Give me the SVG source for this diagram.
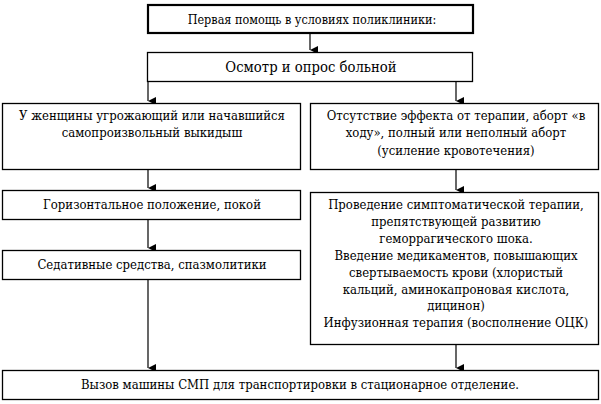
<svg xmlns="http://www.w3.org/2000/svg" width="601" height="404" viewBox="0 0 601 404">
<style>
.b{fill:#fff;stroke:#000;stroke-width:1.3}
text{font-family:'DejaVu Serif Condensed','DejaVu Serif',serif;font-stretch:condensed;font-size:13px;fill:#000;text-anchor:middle}
.c{stroke:#000;stroke-width:1.2;fill:none}
</style>
<defs>
<marker id="ah" markerWidth="8" markerHeight="9" refX="4" refY="8" orient="auto" markerUnits="userSpaceOnUse" viewBox="0 0 8 9">
<path d="M0,0 L8,0 L4,8 Z" fill="#000"/>
</marker>
</defs>
<rect width="601" height="404" fill="#fff"/>
<g id="connectors">
<path class="c" d="M310,34 V50" marker-end="url(#ah)"/>
<path class="c" d="M148,81 V101" marker-end="url(#ah)"/>
<path class="c" d="M456,81 V101" marker-end="url(#ah)"/>
<path class="c" d="M148,169 V188" marker-end="url(#ah)"/>
<path class="c" d="M456,169 V190" marker-end="url(#ah)"/>
<path class="c" d="M148,219 V248" marker-end="url(#ah)"/>
<path class="c" d="M148,279 V368" marker-end="url(#ah)"/>
<path class="c" d="M456,345 V368" marker-end="url(#ah)"/>
</g>
<g id="n1">
<rect x="148" y="5" width="325" height="28" fill="#fff" stroke="#000" stroke-width="2.2"/>
<text x="312" y="23.5" style="font-size:12.5px">Первая помощь в условиях поликлиники:</text>
</g>
<g id="n2">
<rect class="b" x="147.5" y="52.5" width="325" height="29"/>
<text x="311" y="72" style="font-size:14.7px">Осмотр и опрос больной</text>
</g>
<g id="n3">
<rect class="b" x="2.5" y="103.5" width="298" height="66"/>
<text x="152" y="120">У женщины угрожающий или начавшийся</text>
<text x="152" y="137">самопроизвольный выкидыш</text>
</g>
<g id="n4">
<rect class="b" x="310.5" y="103.5" width="288" height="66"/>
<text x="456" y="120">Отсутствие эффекта от терапии, аборт «в</text>
<text x="456" y="137">ходу», полный или неполный аборт</text>
<text x="456" y="155">(усиление кровотечения)</text>
</g>
<g id="n5">
<rect class="b" x="2.5" y="190.5" width="298" height="29"/>
<text x="152" y="209">Горизонтальное положение, покой</text>
</g>
<g id="n6">
<rect class="b" x="310.5" y="192.5" width="288" height="152"/>
<text x="456" y="209">Проведение симптоматической терапии,</text>
<text x="456" y="226">препятствующей развитию</text>
<text x="456" y="243">геморрагического шока.</text>
<text x="456" y="260">Введение медикаментов, повышающих</text>
<text x="456" y="277">свертываемость крови (хлористый</text>
<text x="456" y="294">кальций, аминокапроновая кислота,</text>
<text x="456" y="310">дицинон)</text>
<text x="456" y="327">Инфузионная терапия (восполнение ОЦК)</text>
</g>
<g id="n7">
<rect class="b" x="2.5" y="250.5" width="298" height="29"/>
<text x="152" y="269">Седативные средства, спазмолитики</text>
</g>
<g id="n8">
<rect class="b" x="2.5" y="370.5" width="596" height="29"/>
<text x="300" y="389">Вызов машины СМП для транспортировки в стационарное отделение.</text>
</g>
</svg>
